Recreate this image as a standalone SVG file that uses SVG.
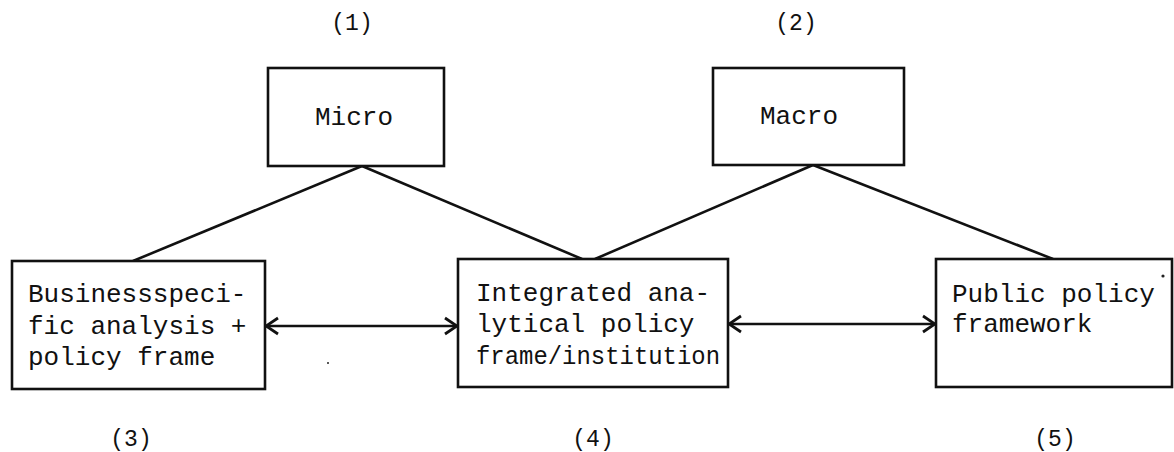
<svg xmlns="http://www.w3.org/2000/svg" width="1174" height="452" viewBox="0 0 1174 452">
<style>
.box{fill:#fff;stroke:#111;stroke-width:2.6}
.t{font-family:"Liberation Mono","Courier New",monospace;font-size:26px;fill:#111}
.c{text-anchor:middle}
.lbl{font-family:"Liberation Mono","Courier New",monospace;font-size:23px;fill:#111;text-anchor:middle}
.ln{stroke:#111;stroke-width:2.6;fill:none}
</style>
<defs>
<marker id="ah" markerUnits="userSpaceOnUse" viewBox="0 0 16 20" refX="14" refY="10" markerWidth="16" markerHeight="20" orient="auto-start-reverse">
<path d="M2,2 L14,10 L2,18" fill="none" stroke="#111" stroke-width="2.8"/>
</marker>
</defs>
<rect width="1174" height="452" fill="#fff"/>
<g id="connectors">
<line class="ln" x1="362" y1="166" x2="133" y2="261"/>
<line class="ln" x1="362" y1="166" x2="582" y2="259"/>
<line class="ln" x1="813" y1="165" x2="595" y2="259"/>
<line class="ln" x1="813" y1="165" x2="1053" y2="259"/>
<line class="ln" x1="266" y1="326" x2="457" y2="326" marker-start="url(#ah)" marker-end="url(#ah)"/>
<line class="ln" x1="729" y1="324" x2="935" y2="324" marker-start="url(#ah)" marker-end="url(#ah)"/>
</g>
<g id="node-micro">
<rect class="box" x="268" y="68" width="176" height="98"/>
<text class="t c" x="354" y="125">Micro</text>
</g>
<g id="node-macro">
<rect class="box" x="713" y="68" width="191" height="97"/>
<text class="t c" x="799" y="124">Macro</text>
</g>
<g id="node-business">
<rect class="box" x="12" y="261" width="253" height="128"/>
<text class="t" x="28" y="302">Businessspeci-</text>
<text class="t" x="28" y="334">fic analysis +</text>
<text class="t" x="28" y="365">policy frame</text>
</g>
<g id="node-integrated">
<rect class="box" x="458" y="259" width="270" height="128"/>
<text class="t" x="476" y="301">Integrated ana-</text>
<text class="t" x="476" y="332">lytical policy</text>
<text class="t" x="476" y="364" textLength="244" lengthAdjust="spacingAndGlyphs">frame/institution</text>
</g>
<g id="node-public">
<rect class="box" x="936" y="259" width="236" height="128"/>
<text class="t" x="952" y="302">Public policy</text>
<text class="t" x="952" y="332">framework</text>
</g>
<g id="labels">
<text class="lbl" x="352" y="30">(1)</text>
<text class="lbl" x="796" y="30">(2)</text>
<text class="lbl" x="131" y="446">(3)</text>
<text class="lbl" x="593" y="446">(4)</text>
<text class="lbl" x="1055" y="446">(5)</text>
</g>
<g id="specks" fill="#222">
<circle cx="1163" cy="276" r="1.6"/>
<circle cx="328" cy="363" r="1"/>
</g>
</svg>
